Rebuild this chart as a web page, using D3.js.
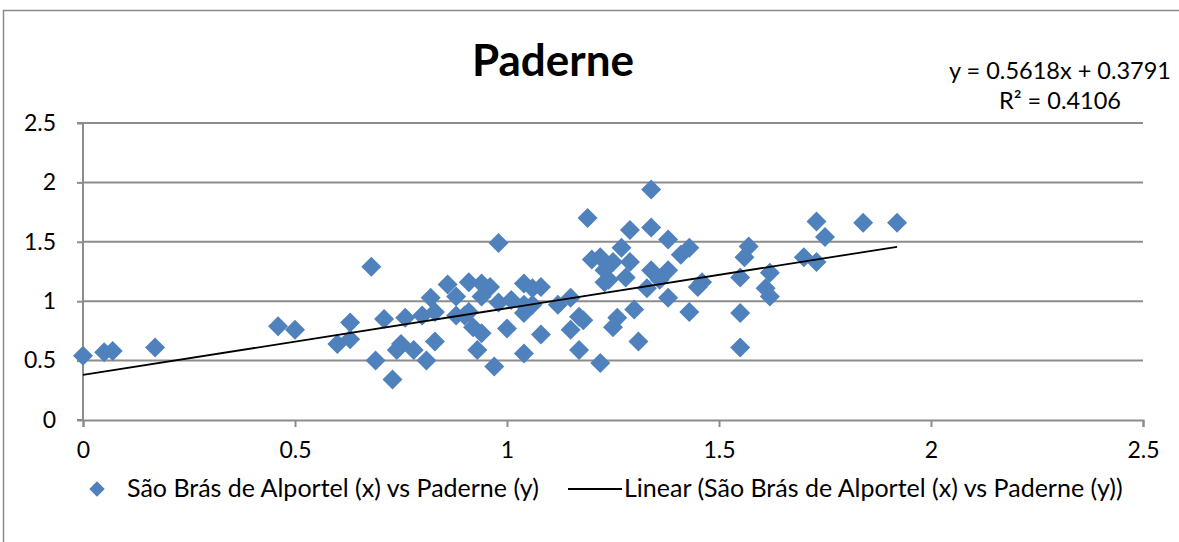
<!DOCTYPE html>
<html>
<head>
<meta charset="utf-8">
<script src="https://cdn.jsdelivr.net/npm/d3@7"></script>
<style>
  body { margin: 0; background: #fff; }
  svg { display: block; font-family: Lato, 'Open Sans', sans-serif; }
</style>
</head>
<body>
<div id="chart"></div>
<script>
// São Brás de Alportel (x) vs Paderne (y)
const xValues = [
  0.00, 0.05, 0.07, 0.17, 0.46, 0.50, 0.60, 0.63, 0.63, 0.68,
  0.69, 0.71, 0.73, 0.74, 0.75, 0.76, 0.78, 0.81, 0.80, 0.82,
  0.83, 0.83, 0.86, 0.88, 0.88, 0.90, 0.91, 0.91, 0.94, 0.96,
  0.94, 0.92, 0.94, 0.93, 0.97, 0.98, 0.98, 1.00, 1.01, 1.04,
  1.04, 1.04, 1.06, 1.08, 1.08, 1.06, 1.04, 1.12, 1.15, 1.17,
  1.18, 1.15, 1.17, 1.22, 1.19, 1.20, 1.22, 1.27, 1.25, 1.29,
  1.23, 1.28, 1.24, 1.23, 1.26, 1.25, 1.30, 1.31, 1.29, 1.34,
  1.34, 1.38, 1.34, 1.38, 1.36, 1.33, 1.38, 1.43, 1.41, 1.43,
  1.45, 1.46, 1.55, 1.57, 1.56, 1.55, 1.55, 1.62, 1.61, 1.62,
  1.70, 1.73, 1.73, 1.75, 1.84, 1.92
]
const yValues = [
  0.54, 0.57, 0.58, 0.61, 0.79, 0.76, 0.64, 0.82, 0.68, 1.29,
  0.50, 0.85, 0.34, 0.59, 0.64, 0.86, 0.59, 0.50, 0.88, 1.03,
  0.66, 0.91, 1.14, 1.04, 0.88, 0.88, 0.91, 1.16, 1.15, 1.12,
  1.04, 0.78, 0.73, 0.59, 0.45, 1.49, 0.99, 0.77, 1.01, 0.97,
  1.15, 0.56, 1.11, 1.12, 0.72, 0.97, 0.90, 0.97, 1.03, 0.87,
  0.84, 0.76, 0.59, 0.48, 1.70, 1.35, 1.37, 1.45, 1.33, 1.33,
  1.26, 1.20, 1.18, 1.16, 0.86, 0.78, 0.93, 0.66, 1.60, 1.94,
  1.62, 1.52, 1.26, 1.26, 1.18, 1.11, 1.03, 0.91, 1.39, 1.45,
  1.12, 1.16, 1.20, 1.46, 1.37, 0.90, 0.61, 1.24, 1.11, 1.04,
  1.37, 1.67, 1.33, 1.54, 1.66, 1.66
]
const points = xValues.map((x, i) => ({ x, y: yValues[i] }))

const slope = 0.5618
const intercept = 0.3791
const rSquared = 0.4106

const axisTicks = [0, 0.5, 1, 1.5, 2, 2.5]
const seriesName = 'São Brás de Alportel (x) vs Paderne (y)'
const titleText = 'Paderne'

const width = 1179
const height = 542
const blue = '#4f81bd'
const gridColor = '#8c8c8c'

const svg = d3.select('#chart').append('svg')
  .attr('width', width)
  .attr('height', height)

// chart frame (runs off the right and bottom edges)
svg.append('path')
  .attr('d', `M3.5,${height + 5}V10.5H${width + 5}`)
  .attr('fill', 'none')
  .attr('stroke', '#8a8a8a')
  .attr('stroke-width', 1.5)

const x = d3.scaleLinear().domain([0, 2.5]).range([83, 1143])
const y = d3.scaleLinear().domain([0, 2.5]).range([420, 123])

// horizontal gridlines
svg.append('g')
  .selectAll('line')
  .data(axisTicks.filter(d => d > 0))
  .join('line')
  .attr('x1', x(0)).attr('x2', x(2.5))
  .attr('y1', d => y(d)).attr('y2', d => y(d))
  .attr('stroke', gridColor)
  .attr('stroke-width', 2)

const fmt = d => d3.format('')(d)

const yAxis = svg.append('g')
  .attr('transform', `translate(${x(0)},0)`)
  .call(d3.axisLeft(y).tickValues(axisTicks).tickFormat(fmt).tickSize(6).tickPadding(21))
const xAxis = svg.append('g')
  .attr('transform', `translate(0,${y(0)})`)
  .call(d3.axisBottom(x).tickValues(axisTicks).tickFormat(fmt).tickSize(7).tickPadding(15))

for (const ax of [yAxis, xAxis]) {
  ax.select('.domain').attr('stroke', gridColor).attr('stroke-width', 2)
  ax.selectAll('.tick line').attr('stroke', gridColor).attr('stroke-width', 2)
  ax.selectAll('.tick text')
    .attr('fill', '#000')
    .style('font-family', 'Lato, sans-serif')
    .style('font-size', '23px')
}
yAxis.select('.domain').attr('d', `M-6,${y(2.5)}H0V${y(0)}H-6`)

// points
const diamond = d3.symbol().type(d3.symbolSquare).size(200)
svg.append('g')
  .selectAll('path')
  .data(points)
  .join('path')
  .attr('d', diamond)
  .attr('transform', d => `translate(${x(d.x)},${y(d.y)}) rotate(45)`)
  .attr('fill', blue)

// linear trendline
const maxX = d3.max(points, d => d.x)
svg.append('line')
  .attr('x1', x(0)).attr('y1', y(intercept))
  .attr('x2', x(maxX)).attr('y2', y(slope * maxX + intercept))
  .attr('stroke', '#000')
  .attr('stroke-width', 1.8)

// title
svg.append('text')
  .attr('x', 553).attr('y', 76)
  .attr('text-anchor', 'middle')
  .style('font-size', '44px')
  .style('font-weight', 'bold')
  .text(titleText)

// equation
const eq = svg.append('g').style('font-size', '23.5px').attr('text-anchor', 'middle')
eq.append('text').attr('x', 1060).attr('y', 79)
  .text(`y = ${slope}x + ${intercept}`)
eq.append('text').attr('x', 1060).attr('y', 109)
  .text(`R² = ${rSquared}`)

// legend
const legend = svg.append('g').style('font-size', '25px')
legend.append('path')
  .attr('d', d3.symbol().type(d3.symbolSquare).size(120))
  .attr('transform', 'translate(97,489) rotate(45)')
  .attr('fill', blue)
legend.append('text').attr('x', 127).attr('y', 497).text(seriesName)
legend.append('line')
  .attr('x1', 568).attr('x2', 622)
  .attr('y1', 489).attr('y2', 489)
  .attr('stroke', '#000').attr('stroke-width', 1.8)
legend.append('text').attr('x', 624).attr('y', 497).text(`Linear (${seriesName})`)
</script>
</body>
</html>
